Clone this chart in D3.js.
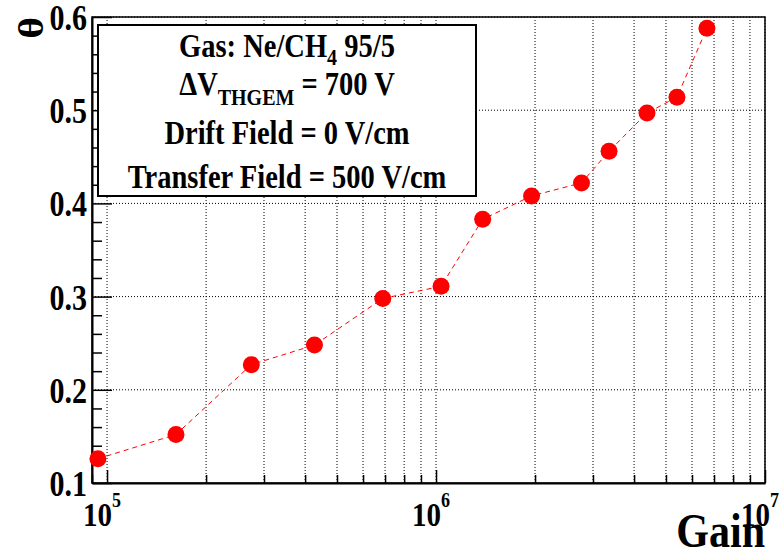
<!DOCTYPE html>
<html>
<head>
<meta charset="utf-8">
<script src="https://cdn.jsdelivr.net/npm/d3@7"></script>
<style>
  html, body { margin: 0; padding: 0; background: #fff; }
  svg { display: block; }
  text { font-family: "Liberation Serif", "Times New Roman", serif; font-weight: bold; fill: #000; }
</style>
</head>
<body>
<div id="chart"></div>
<script>
// ---- data ----
const gain  = [93800, 162000, 274500, 427000, 689000, 1036000, 1386000, 1952000, 2768000, 3357000, 4378000, 5400000, 6660000];
const theta = [0.126, 0.152, 0.227, 0.248, 0.298, 0.311, 0.383, 0.408, 0.422, 0.456, 0.497, 0.514, 0.588];
const yTickLabels = ["0.1", "0.2", "0.3", "0.4", "0.5", "0.6"];
const yTickValues = [0.1, 0.2, 0.3, 0.4, 0.5, 0.6];
const xTickExponents = [5, 6, 7];
const legendLines = ["Gas: Ne/CH|4| 95/5", "ΔV|THGEM| = 700 V", "Drift Field = 0 V/cm", "Transfer Field = 500 V/cm"];
const xTitle = "Gain";
const yTitle = "θ";

// ---- layout ----
const W = 784, H = 555;
const L = 92, R = 765, T = 17, B = 483;
const SY = 1.16; // vertical stretch of text

const svg = d3.select("#chart").append("svg").attr("width", W).attr("height", H);

const x = d3.scaleLog().domain([9e4, 1e7]).range([L, R]);
const y = d3.scaleLinear().domain([0.1, 0.6]).range([B, T]);

// grid values
const xGrid = [];
for (let e = 5; e <= 6; e++) for (let m = 1; m <= 9; m++) xGrid.push(m * Math.pow(10, e));
xGrid.push(1e7);
const xMinor = [9e4].concat(xGrid);
const yMinor = d3.range(0.1, 0.6001, 0.02);

const gridG = svg.append("g");
gridG.selectAll("line.gx").data(xGrid).enter().append("line")
  .attr("x1", d => x(d)).attr("x2", d => x(d)).attr("y1", T).attr("y2", B)
  .attr("stroke", "#000").attr("stroke-width", 1).attr("stroke-dasharray", "1,2");
gridG.selectAll("line.gy").data(yTickValues.slice(1)).enter().append("line")
  .attr("x1", L).attr("x2", R).attr("y1", d => y(d)).attr("y2", d => y(d))
  .attr("stroke", "#000").attr("stroke-width", 1).attr("stroke-dasharray", "1,2");

// frame
svg.append("rect").attr("x", L).attr("y", T).attr("width", R - L).attr("height", B - T)
  .attr("fill", "none").attr("stroke", "#000").attr("stroke-width", 1.5);

// x axis ticks (inside)
const xAxis = d3.axisBottom(x).tickValues(xMinor.filter(v => v >= 9e4 && v <= 1e7))
  .tickSizeInner(-8).tickSizeOuter(0).tickFormat("");
const gx = svg.append("g").attr("transform", `translate(0,${B})`).call(xAxis);
gx.select(".domain").attr("stroke-width", 2);
gx.selectAll(".tick line").attr("stroke-width", 1.5)
  .attr("y2", d => [1e5, 1e6, 1e7].includes(d) ? -13 : -8);

// y axis ticks (inside)
const yAxis = d3.axisLeft(y).tickValues(yMinor).tickSizeInner(-10).tickSizeOuter(0).tickFormat("");
const gy = svg.append("g").attr("transform", `translate(${L},0)`).call(yAxis);
gy.select(".domain").attr("stroke-width", 2);
gy.selectAll(".tick line").attr("stroke-width", 1.5)
  .attr("x2", d => (Math.abs(Math.round(d * 10) - d * 10) < 1e-6) ? 20 : 10);

// stretched text helper
function stext(g, px, py, str, size, anchor) {
  return g.append("text")
    .attr("transform", `translate(${px},${py}) scale(1,${SY})`)
    .attr("font-size", size).attr("text-anchor", anchor || "start").text(str);
}

// y tick labels
yTickValues.forEach((v, i) => {
  stext(svg, L - 5, y(v) + 13, yTickLabels[i], 30, "end");
});

// x tick labels 10^n
xTickExponents.forEach(e => {
  const cx = x(Math.pow(10, e));
  const t = svg.append("text")
    .attr("transform", `translate(${cx - 5},526) scale(1,${SY})`)
    .attr("font-size", 29).attr("text-anchor", "middle");
  t.append("tspan").text("10");
  t.append("tspan").attr("font-size", 18).attr("dy", -16).text(String(e));
});

// axis titles
stext(svg, R, 547, xTitle, 42, "end");
svg.append("text")
  .attr("transform", `translate(43,17) scale(1,${SY}) rotate(-90)`)
  .attr("font-size", 36).attr("text-anchor", "end").text(yTitle);

// data line
const line = d3.line().x((d, i) => x(gain[i])).y((d, i) => y(theta[i]));
svg.append("path").datum(theta).attr("d", line)
  .attr("fill", "none").attr("stroke", "#ff0000").attr("stroke-width", 1)
  .attr("stroke-dasharray", "5,4");

svg.selectAll("circle.pt").data(theta).enter().append("circle")
  .attr("cx", (d, i) => x(gain[i])).attr("cy", d => y(d)).attr("r", 8.5)
  .attr("fill", "#ff0000");

// legend box
const lg = svg.append("g");
lg.append("rect").attr("x", 98).attr("y", 25).attr("width", 378).attr("height", 171)
  .attr("fill", "#fff").attr("stroke", "#000").attr("stroke-width", 2);
const baselines = [56.5, 94.5, 144, 188];
const subShift = [7, 9];
legendLines.forEach((s, i) => {
  const parts = s.split("|");
  const t = lg.append("text")
    .attr("transform", `translate(287,${baselines[i]}) scale(1,${SY})`)
    .attr("font-size", 28.5).attr("text-anchor", "middle");
  const sh = subShift[i] || 8;
  parts.forEach((p, j) => {
    if (j % 2 === 1) {
      t.append("tspan").attr("font-size", 20).attr("dy", sh).text(p);
    } else {
      const ts = t.append("tspan").text(p);
      if (j > 0) ts.attr("dy", -sh);
    }
  });
});
</script>
</body>
</html>
